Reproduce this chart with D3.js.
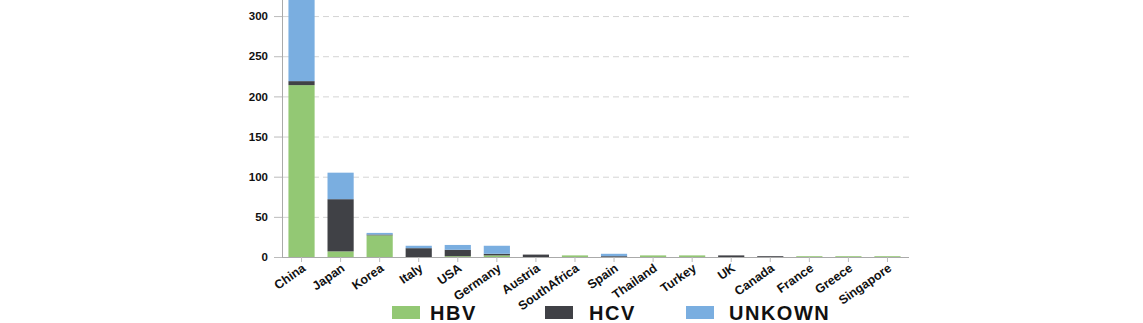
<!DOCTYPE html>
<html><head><meta charset="utf-8">
<script src="https://cdn.jsdelivr.net/npm/d3@7"></script>
<style>body{margin:0;background:#fff}svg{display:block}text{font-family:"Liberation Sans",Arial,sans-serif;font-weight:bold}</style>
</head><body><svg id="c" width="1143" height="323"></svg>
<script>
const countries = ["China","Japan","Korea","Italy","USA","Germany","Austria","SouthAfrica","Spain","Thailand","Turkey","UK","Canada","France","Greece","Singapore"];
const hbv     = [214, 7, 27, 0, 1, 2, 0, 2, 0, 2, 2, 0, 0, 1, 1, 1];
const hcv     = [5, 65, 1, 11, 8, 2, 3, 0, 1, 0, 0, 2, 1, 0, 0, 0];
const unknown = [101, 33, 2, 3, 6, 10, 0, 0, 3, 0, 0, 0, 0, 0, 0, 0];
const seriesNames = ["HBV","HCV","UNKOWN"];
const colors = ["#93c874","#404146","#7aaee0"];
const yTicks = [0,50,100,150,200,250,300];

const svg = d3.select("#c");
const x = d3.scaleBand().domain(countries).range([282,907]).paddingInner(0.33).paddingOuter(0.165);
const y = d3.scaleLinear().domain([0,320]).range([257,0]);

const rows = countries.map((c,i)=>({country:c, HBV:hbv[i], HCV:hcv[i], UNKOWN:unknown[i]}));
const stacked = d3.stack().keys(seriesNames)(rows);

// grid
svg.append("g").selectAll("line").data(yTicks.filter(d=>d>0)).join("line")
  .attr("x1",283).attr("x2",909).attr("y1",d=>y(d)+0.5).attr("y2",d=>y(d)+0.5)
  .attr("stroke","#d4d4d4").attr("stroke-dasharray","6,4");

// bars
svg.append("g").selectAll("g").data(stacked).join("g")
  .attr("fill",(d,i)=>colors[i])
  .selectAll("rect").data(d=>d).join("rect")
  .attr("x",d=>x(d.data.country)).attr("width",x.bandwidth())
  .attr("y",d=>y(d[1])).attr("height",d=>Math.max(0,y(d[0])-y(d[1])));

// y axis
const ya = svg.append("g").attr("transform","translate(282,0)")
  .call(d3.axisLeft(y).tickValues(yTicks).tickSize(8).tickPadding(6));
ya.select(".domain").attr("stroke","#aaa").attr("d","M0.5,0V257.5");
ya.selectAll(".tick line").attr("stroke","#bbb");
ya.selectAll(".tick text").attr("font-size",11.5).attr("fill","#111");

// x axis
const xa = svg.append("g").attr("transform","translate(0,257)")
  .call(d3.axisBottom(x).tickSize(5).tickSizeOuter(0));
xa.select(".domain").attr("stroke","#aaa").attr("d","M282,0.5H909");
xa.selectAll(".tick line").attr("stroke","#bbb");
xa.selectAll(".tick text").attr("font-size",12.5).attr("fill","#111")
  .attr("text-anchor","end").attr("dy",0).attr("y",0)
  .attr("transform","translate(5,13) rotate(-35)");

// legend
const legX = [392,545,686];
const leg = svg.append("g").selectAll("g").data(seriesNames).join("g")
  .attr("transform",(d,i)=>`translate(${legX[i]},306)`);
leg.append("rect").attr("width",28).attr("height",13).attr("fill",(d,i)=>colors[i]);
leg.append("text").attr("x",(d,i)=>i===0?38:(i===1?44:43)).attr("y",13.8).attr("font-size",20).attr("fill","#111")
  .attr("letter-spacing",1.5).text(d=>d);
</script></body></html>
